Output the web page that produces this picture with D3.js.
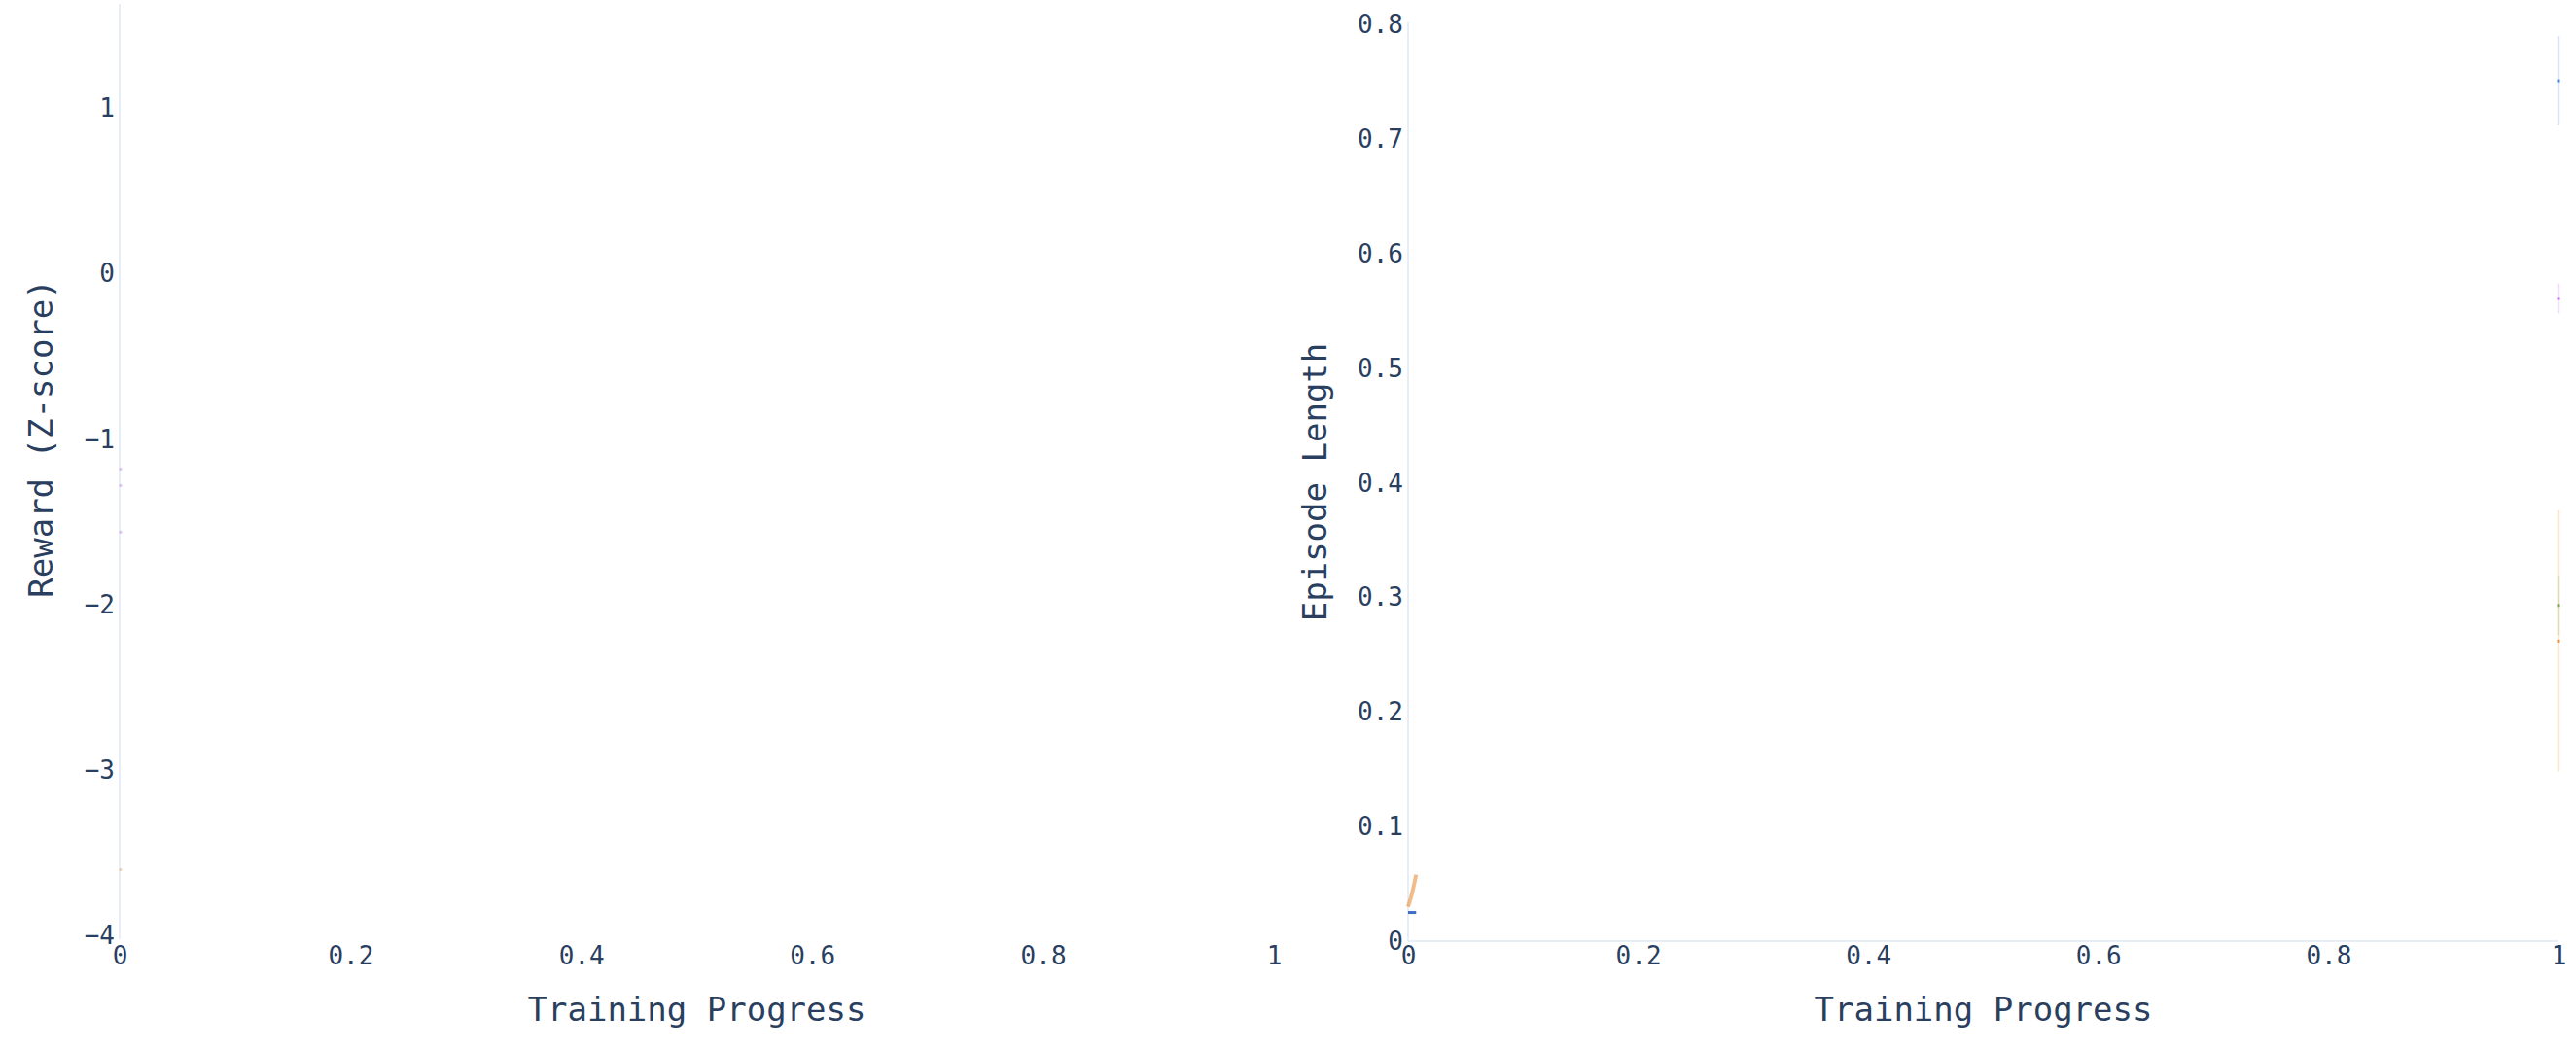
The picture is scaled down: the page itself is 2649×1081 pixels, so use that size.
<!DOCTYPE html>
<meta charset="utf-8">
<script src="https://d3js.org/d3.v7.min.js"></script>
<style>
  body { margin: 0; background: #fff; }
  text { font-family: "DejaVu Sans Mono", monospace; }
</style>
<div id="chart"></div>
<script>
// tick labels
var progressTicks = [0, 0.2, 0.4, 0.6, 0.8, 1];
var rewardTicks = [-4, -3, -2, -1, 0, 1];
var lengthTicks = [0, 0.1, 0.2, 0.3, 0.4, 0.5, 0.6, 0.7, 0.8];

// reward (z-score): the only marks that show, right on the x = 0 edge
var rewardSeries = ["purple", "purple", "purple", "orange"];
var rewardX = [0, 0, 0, 0];
var rewardY = [-1.18, -1.28, -1.56, -3.6];

// episode length at the end of training (x = 1): mean and spread
var lengthSeries = ["blue", "purple", "green", "orange"];
var lengthEndMean = [0.751, 0.561, 0.293, 0.262];
var lengthEndSpread = [0.039, 0.013, 0.026, 0.114];

// episode length right at the start of training
var blueStartX = [0, 0.007];
var blueStartY = [0.025, 0.025];
var orangeStartX = [0, 0.003, 0.007];
var orangeStartY = [0.030, 0.040, 0.058];

var colors = {blue: "#3b6fc7", purple: "#b05ce0", green: "#5a9a4a", orange: "#e8852a"};
var textColor = "#2a3f5f", lineColor = "#e8eef7";

//----------------drawing stuff---------------------
var W = 2649, H = 1081;

var svg = d3.select("#chart").append("svg")
  .attr("width", W)
  .attr("height", H);

// panel scales (plotly-ish two subplots side by side)
var xLeft = d3.scaleLinear().domain([0, 1]).range([123, 1310]);
var yLeft = d3.scaleLinear().domain([-4.02, 1.63]).range([966, 4]);
var xRight = d3.scaleLinear().domain([0, 1]).range([1448, 2631]);
var yRight = d3.scaleLinear().domain([0, 0.802]).range([968, 23]);

var fmt = d3.format("~g");

function drawPanel(xs, ys, yTicks, xTitle, yTitle, yTitlePos, showYZero) {
  var g = svg.append("g");

  // zero lines
  g.append("line")
    .attr("x1", xs(0)).attr("x2", xs(0))
    .attr("y1", ys.range()[0]).attr("y2", ys.range()[1])
    .attr("stroke", lineColor).attr("stroke-width", 2);
  if (showYZero) {
    g.append("line")
      .attr("x1", xs.range()[0]).attr("x2", xs.range()[1])
      .attr("y1", ys(0)).attr("y2", ys(0))
      .attr("stroke", lineColor).attr("stroke-width", 2);
  }

  var bottom = ys.range()[0];
  var xa = g.append("g")
    .attr("transform", "translate(0," + bottom + ")")
    .call(d3.axisBottom(xs).tickValues(progressTicks).tickFormat(fmt).tickSize(0))
    .attr("font-size", 26)
    .attr("font-family", "DejaVu Sans Mono")
    .attr("color", textColor);
  xa.select(".domain").remove();
  xa.selectAll("text").attr("y", 983 - bottom).attr("dy", "0.35em");

  var ya = g.append("g")
    .attr("transform", "translate(" + xs(0) + ",0)")
    .call(d3.axisLeft(ys).tickValues(yTicks).tickFormat(fmt).tickSize(0).tickPadding(5))
    .attr("font-size", 26)
    .attr("font-family", "DejaVu Sans Mono")
    .attr("color", textColor);
  ya.select(".domain").remove();

  g.append("text")
    .attr("x", (xs.range()[0] + xs.range()[1]) / 2)
    .attr("y", 1038)
    .attr("dy", "0.35em")
    .attr("text-anchor", "middle")
    .attr("font-size", 34)
    .attr("fill", textColor)
    .text(xTitle);

  g.append("text")
    .attr("transform", "translate(" + yTitlePos[0] + "," + yTitlePos[1] + ") rotate(-90)")
    .attr("dy", "0.35em")
    .attr("text-anchor", "middle")
    .attr("font-size", 34)
    .attr("fill", textColor)
    .text(yTitle);

  return g;
}

var leftG = drawPanel(xLeft, yLeft, rewardTicks, "Training Progress", "Reward (Z-score)", [42, 451], false);
var rightG = drawPanel(xRight, yRight, lengthTicks, "Training Progress", "Episode Length", [1352, 496], true);

// reward marks at the left edge (very faint)
rewardY.forEach(function(v, i) {
  leftG.append("circle")
    .attr("cx", xLeft(rewardX[i]) + 1)
    .attr("cy", yLeft(v))
    .attr("r", 1.6)
    .attr("fill", colors[rewardSeries[i]])
    .attr("opacity", 0.35);
});

// episode length bands and means at x = 1
lengthSeries.forEach(function(s, i) {
  var m = lengthEndMean[i], sd = lengthEndSpread[i];
  rightG.append("line")
    .attr("x1", xRight(1)).attr("x2", xRight(1))
    .attr("y1", yRight(m + sd)).attr("y2", yRight(m - sd))
    .attr("stroke", colors[s])
    .attr("stroke-width", 2.5)
    .attr("opacity", 0.18);
  rightG.append("rect")
    .attr("x", xRight(1) - 1.5)
    .attr("y", yRight(m) - 1.5)
    .attr("width", 3)
    .attr("height", 3)
    .attr("fill", colors[s])
    .attr("opacity", 0.85);
});

// start of training
var startLine = d3.line()
  .x(function(d) { return xRight(d[0]); })
  .y(function(d) { return yRight(d[1]); })
  .curve(d3.curveMonotoneX);

rightG.append("path")
  .attr("d", startLine(d3.zip(orangeStartX, orangeStartY)))
  .attr("fill", "none")
  .attr("stroke", colors.orange)
  .attr("stroke-width", 4)
  .attr("opacity", 0.55);

rightG.append("path")
  .attr("d", startLine(d3.zip(blueStartX, blueStartY)))
  .attr("fill", "none")
  .attr("stroke", colors.blue)
  .attr("stroke-width", 3);
</script>
